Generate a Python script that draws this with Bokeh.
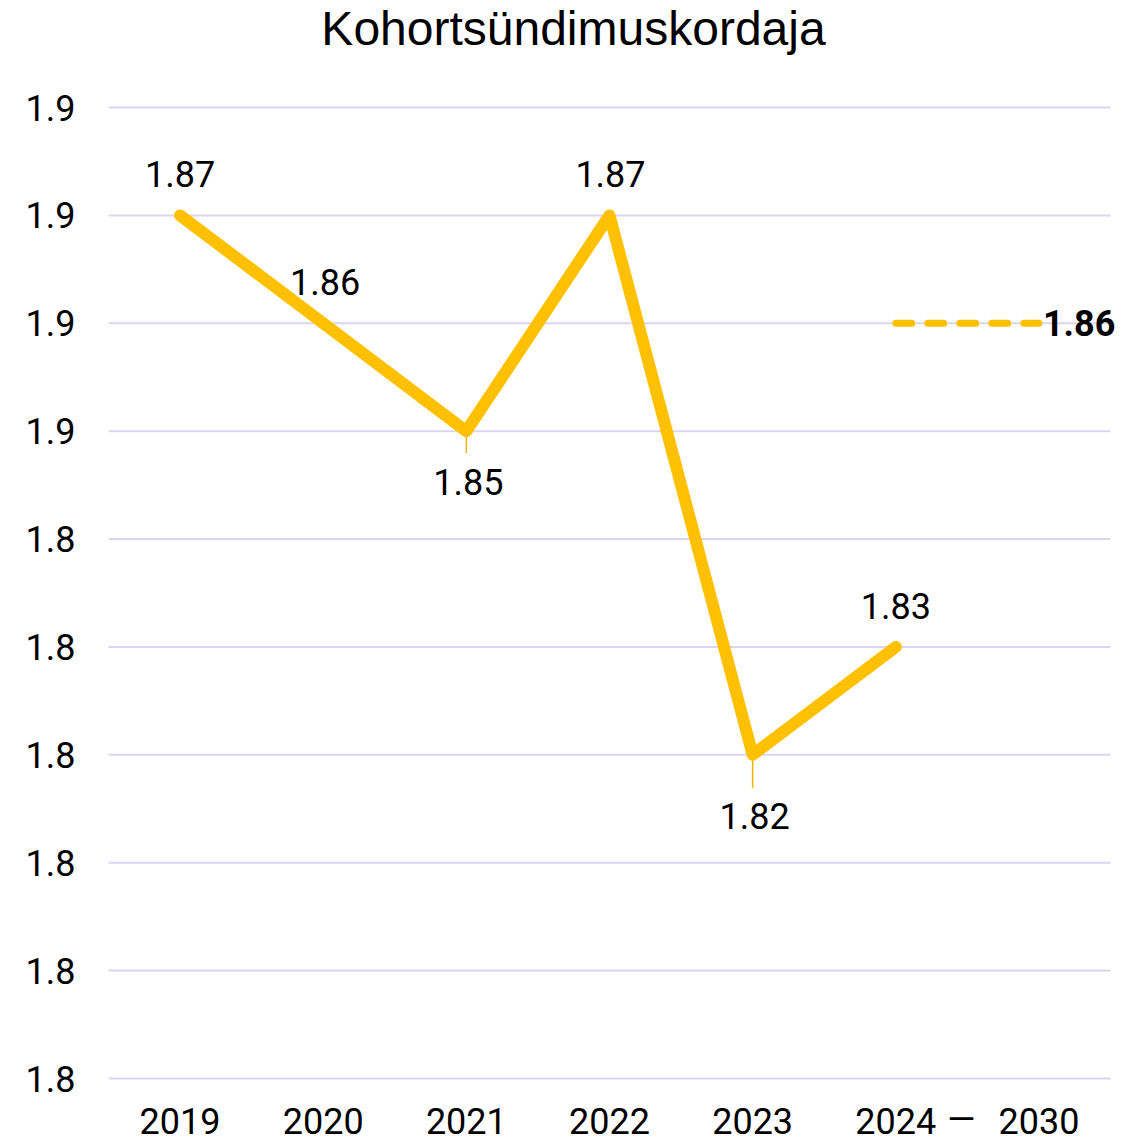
from bokeh.plotting import figure
from bokeh.models import Range1d, Label, LabelSet, FixedTicker, ColumnDataSource
from bokeh.core.properties import value
from bokeh.embed import file_html
from bokeh.resources import INLINE

# ---------------- data ----------------
chart_title = "Kohortsündimuskordaja"
categories = ["2019", "2020", "2021", "2022", "2023", "2024", "2030"]
actual_years = ["2019", "2020", "2021", "2022", "2023", "2024"]
actual_values = [1.87, 1.86, 1.85, 1.87, 1.82, 1.83]
actual_labels = ["1.87", "1.86", "1.85", "1.87", "1.82", "1.83"]
forecast_years = ["2024", "2030"]
forecast_values = [1.86, 1.86]
forecast_label = "1.86"
y_ticks = [1.79, 1.80, 1.81, 1.82, 1.83, 1.84, 1.85, 1.86, 1.87, 1.88]
y_tick_labels = ["1.8", "1.8", "1.8", "1.8", "1.8", "1.8", "1.9", "1.9", "1.9", "1.9"]
range_separator = "—"

# ---------------- styles ----------------
LINE_COLOR = "#FFC000"
GRID_COLOR = "#D9D6F3"
TEXT_COLOR = "#000000"
FONT = value("Roboto")
FONT_SIZE = "36px"
# label offsets in pixels (positive = above point), leader lengths in pixels
label_dy = [41, 41, -51, 41, -61, 41]
label_dx = [0, 2, 2, 1, 2, 0]
leader_px = [0, 0, 22, 0, 33, 0]

W, H = 1137, 1141
LEFT = 108                       # left panel for y axis
TOP_PAD, BOTTOM_PAD = 107, 63    # pixels above top / below bottom grid line
Y_START, Y_END = y_ticks[0], y_ticks[-1]
PX_PER_UNIT = (H - TOP_PAD - BOTTOM_PAD) / (Y_END - Y_START)
STEP = 1002 / len(categories)    # pixels per category slot

pos = {c: i for i, c in enumerate(categories)}

p = figure(width=W, height=H, output_backend="svg", toolbar_location=None,
           x_range=Range1d(-0.5, -0.5 + (W - LEFT) / STEP),
           y_range=Range1d(Y_START - BOTTOM_PAD / PX_PER_UNIT, Y_END + TOP_PAD / PX_PER_UNIT),
           min_border_left=LEFT, min_border_right=0, min_border_top=0,
           min_border_bottom=0)
p.outline_line_color = None
p.background_fill_color = "white"
p.border_fill_color = "white"
p.xaxis.visible = False
p.xgrid.grid_line_color = None
p.ygrid.grid_line_color = None

# y axis
p.yaxis.ticker = FixedTicker(ticks=y_ticks)
p.yaxis.major_label_overrides = {t: l for t, l in zip(y_ticks, y_tick_labels)}
p.yaxis.axis_line_color = None
p.yaxis.major_tick_line_color = None
p.yaxis.minor_tick_line_color = None
p.yaxis.major_tick_out = 0
p.yaxis.major_tick_in = 0
p.yaxis.major_label_text_font = "Roboto"
p.yaxis.major_label_text_font_size = FONT_SIZE
p.yaxis.major_label_text_color = TEXT_COLOR
p.yaxis.major_label_standoff = 33

# horizontal grid lines spanning the category slots
p.segment(x0=[-0.5] * len(y_ticks), x1=[len(categories) - 0.5] * len(y_ticks),
          y0=y_ticks, y1=y_ticks, line_color=GRID_COLOR, line_width=2)

# x category labels
xsrc = ColumnDataSource(dict(x=list(range(len(categories))), y=[Y_START] * len(categories),
                             label=categories))
p.add_layout(LabelSet(x="x", y="y", text="label", source=xsrc, y_offset=-42,
                      text_align="center", text_baseline="middle",
                      text_font=FONT, text_font_size=FONT_SIZE, text_color=TEXT_COLOR))
p.add_layout(Label(x=(pos["2024"] + pos["2030"]) / 2, y=Y_START, y_offset=-41, x_offset=-6,
                   text=range_separator, text_align="center", text_baseline="middle",
                   text_font="Roboto", text_font_size=FONT_SIZE, text_color=TEXT_COLOR))

# actual series
src = ColumnDataSource(dict(
    x=[pos[y] for y in actual_years],
    y=actual_values,
    label=actual_labels,
    dx=label_dx,
    dy=label_dy,
    ly=[v - l / PX_PER_UNIT for v, l in zip(actual_values, leader_px)],
))
p.segment(x0="x", y0="y", x1="x", y1="ly", source=src, line_color="#F2B300", line_width=1.5)
p.line(x="x", y="y", source=src, line_color=LINE_COLOR, line_width=12,
       line_cap="round", line_join="round")

# forecast series
fsrc = ColumnDataSource(dict(x=[pos[y] for y in forecast_years], y=forecast_values))
p.line(x="x", y="y", source=fsrc, line_color=LINE_COLOR, line_width=7,
       line_dash="16 16", line_cap="round")

p.add_layout(LabelSet(x="x", y="y", text="label", source=src, x_offset="dx", y_offset="dy",
                      text_align="center", text_baseline="middle",
                      text_font=FONT, text_font_size=FONT_SIZE, text_color=TEXT_COLOR))

p.add_layout(Label(x=pos[forecast_years[-1]], y=forecast_values[-1], text=forecast_label,
                   x_offset=4, text_align="left", text_baseline="middle",
                   text_font="Roboto", text_font_size=FONT_SIZE, text_font_style="bold",
                   text_color=TEXT_COLOR))

# title
p.add_layout(Label(x=573 - LEFT, x_units="screen", y=H - 28, y_units="screen",
                   text=chart_title, text_align="center", text_baseline="middle",
                   text_font="Liberation Sans", text_font_size="48px",
                   text_color=TEXT_COLOR))

open("out.html", "w").write(file_html(p, INLINE))
